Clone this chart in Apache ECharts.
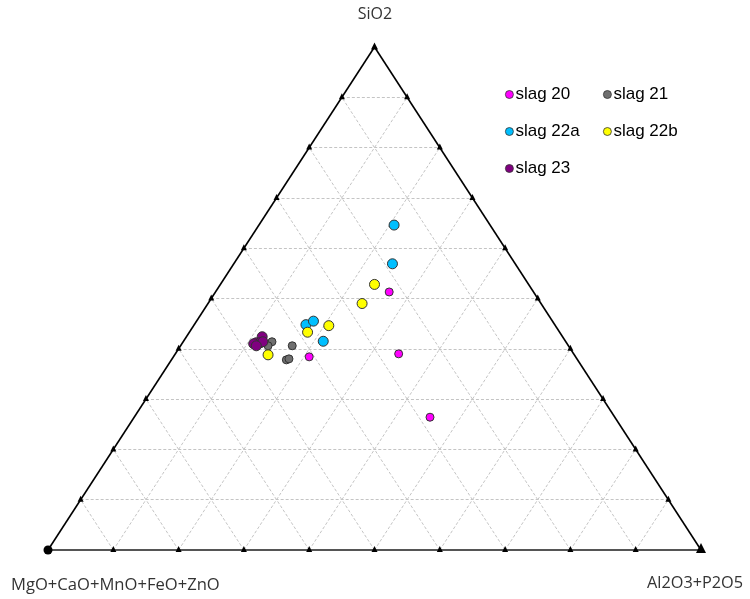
<!DOCTYPE html>
<html><head><meta charset="utf-8">
<script src="https://cdn.jsdelivr.net/npm/echarts@6/dist/echarts.min.js"></script>
<style>html,body{margin:0;padding:0;background:#fff}#c{width:750px;height:599px}</style>
</head><body><div id="c"></div>
<script>
// Compositions in percent: [SiO2, MgO+CaO+MnO+FeO+ZnO, Al2O3+P2O5]
var vertexLabels = ['SiO2', 'MgO+CaO+MnO+FeO+ZnO', 'Al2O3+P2O5'];
var seriesNames = ['slag 20', 'slag 21', 'slag 22a', 'slag 22b', 'slag 23'];
var slag20 = [[51.3, 22.1, 26.6], [39.0, 26.8, 34.2], [26.4, 28.3, 45.3], [38.4, 40.8, 20.8]];
var slag21 = [[41.4, 45.0, 13.6], [40.6, 46.0, 13.4], [40.6, 42.3, 17.1], [37.8, 44.6, 17.6], [38.0, 44.1, 17.9]];
var slag22a = [[64.6, 14.7, 20.7], [56.9, 18.8, 24.3], [44.8, 38.1, 17.1], [45.5, 36.6, 17.9], [41.5, 37.1, 21.4]];
var slag22b = [[52.8, 23.6, 23.6], [49.0, 27.4, 23.6], [44.6, 34.7, 20.7], [43.3, 38.6, 18.1], [38.8, 46.9, 14.3]];
var slag23 = [[42.4, 46.0, 11.6], [41.2, 47.5, 11.3], [41.2, 46.9, 11.9], [41.4, 46.4, 12.2], [41.0, 48.0, 11.0], [40.6, 47.8, 11.6]];
var tickSteps = [10, 20, 30, 40, 50, 60, 70, 80, 90];

var colors = ['#ff00ff', '#6f6f6f', '#00bfff', '#ffff00', '#800080'];
var sizes = [8, 8, 10, 10, 10];

function toXY(t) {
  var s = t[0], m = t[1], a = t[2];
  var tot = s + m + a;
  s /= tot; a /= tot;
  return [a + s / 2, s];
}

var seriesData = [slag20, slag21, slag22a, slag22b, slag23];

var gridLines = [];
tickSteps.forEach(function (k) {
  gridLines.push({coords: [toXY([k, 100 - k, 0]), toXY([k, 0, 100 - k])]});
  gridLines.push({coords: [toXY([0, 100 - k, k]), toXY([100 - k, 0, k])]});
  gridLines.push({coords: [toXY([0, k, 100 - k]), toXY([100 - k, k, 0])]});
});
var edges = [
  {coords: [toXY([100, 0, 0]), toXY([0, 100, 0])]},
  {coords: [toXY([100, 0, 0]), toXY([0, 0, 100])]}
];
var bottomEdge = [{coords: [toXY([0, 100, 0]), toXY([0, 0, 100])]}];
var ticks = [];
tickSteps.forEach(function (k) {
  ticks.push(toXY([k, 100 - k, 0]));
  ticks.push(toXY([k, 0, 100 - k]));
  ticks.push(toXY([0, 100 - k, k]));
});

var series = [
  {type: 'lines', coordinateSystem: 'cartesian2d', silent: true, data: gridLines,
   lineStyle: {color: '#c4c4c4', width: 1, type: [3, 2], opacity: 1}, z: 1},
  {type: 'lines', coordinateSystem: 'cartesian2d', silent: true, data: bottomEdge,
   lineStyle: {color: '#555', width: 2, opacity: 1}, z: 2},
  {type: 'lines', coordinateSystem: 'cartesian2d', silent: true, data: edges,
   lineStyle: {color: '#000', width: 1.6, opacity: 1}, z: 2},
  {type: 'scatter', silent: true, data: ticks, symbol: 'triangle', symbolSize: [6, 6],
   symbolOffset: [0, -1], itemStyle: {color: '#000', opacity: 1}, z: 3},
  {type: 'scatter', silent: true, data: [toXY([100, 0, 0])], symbol: 'triangle', symbolSize: 7,
   symbolOffset: [0, -1], itemStyle: {color: '#000', opacity: 1}, z: 3},
  {type: 'scatter', silent: true, data: [toXY([0, 100, 0])], symbol: 'circle', symbolSize: 9,
   itemStyle: {color: '#000', opacity: 1}, z: 3},
  {type: 'scatter', silent: true, data: [toXY([0, 0, 100])], symbol: 'triangle', symbolSize: 10,
   symbolOffset: [0, -2], itemStyle: {color: '#000', opacity: 1}, z: 3}
];
seriesNames.forEach(function (n, i) {
  series.push({
    type: 'scatter', name: n, data: seriesData[i].map(toXY), symbol: 'circle',
    symbolSize: sizes[i],
    itemStyle: {color: colors[i], borderColor: '#333', borderWidth: 1, opacity: 1},
    z: 5
  });
});

var legendPos = [[500, 81], [598, 81], [500, 118], [598, 118], [500, 155]];
var legends = seriesNames.map(function (n, i) {
  return {
    data: [n], left: legendPos[i][0], top: legendPos[i][1], orient: 'horizontal',
    icon: 'circle', itemWidth: 8, itemHeight: 8, itemGap: 0,
    itemStyle: {borderWidth: 0.8, opacity: 1},
    textStyle: {fontFamily: 'Liberation Sans', fontSize: 17, color: '#000', padding: [0, 0, 0, -3]},
    selectedMode: false
  };
});

var chart = echarts.init(document.getElementById('c'), null, {renderer: 'canvas'});
chart.setOption({
  animation: false,
  backgroundColor: '#fff',
  grid: {left: 48, right: 49, top: 47, bottom: 49},
  xAxis: {type: 'value', min: 0, max: 1, show: false},
  yAxis: {type: 'value', min: 0, max: 1, show: false},
  legend: legends,
  graphic: [
    {type: 'text', left: 'center', top: 6, style: {text: vertexLabels[0], font: '16px "Open Sans"', fill: '#333'}},
    {type: 'text', left: 11, top: 577, style: {text: vertexLabels[1], font: '16.6px "Open Sans"', fill: '#333'}},
    {type: 'text', left: 647, top: 575, style: {text: vertexLabels[2], font: '16.3px "Open Sans"', fill: '#333'}}
  ],
  series: series
});
</script></body></html>
